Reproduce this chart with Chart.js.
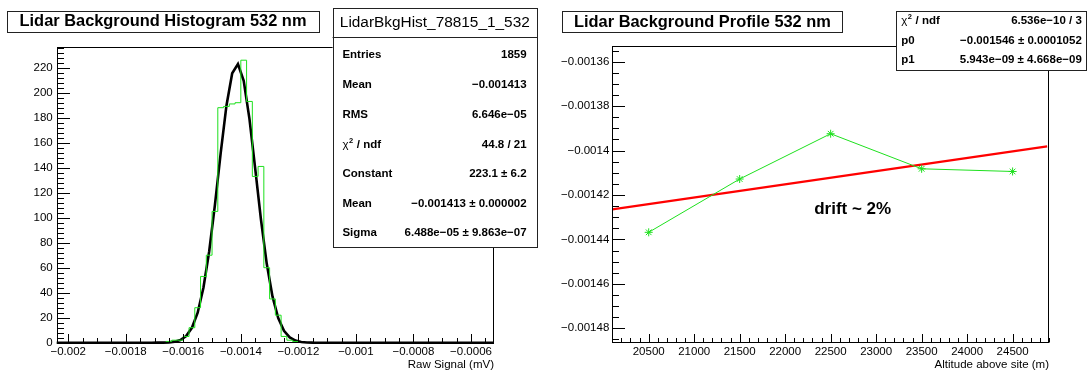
<!DOCTYPE html>
<html>
<head>
<meta charset="utf-8">
<script src="https://cdn.jsdelivr.net/npm/chart.js@4.4.0/dist/chart.umd.min.js"></script>
<style>
    body { margin: 0; background: #fff; width: 1087px; height: 370px; overflow: hidden; position: relative; }
    canvas { position: absolute; top: 0; }
    #histo { left: 0; }
    #prof { left: 545px; }
</style>
</head>
<body>
<canvas id="histo" width="545" height="370"></canvas>
<canvas id="prof" width="542" height="370"></canvas>
<script>
// ==========================================
// A. DATA
// ==========================================
// left: histogram, bins of 0.00002 from -0.00204 to -0.00052
const histMin = -0.00204;
const histMax = -0.00052;
const binWidth = 0.00002;
const firstBin = -0.00168;   // lower edge of the first listed bin
const histCounts = [0, 1, 2, 2, 5, 12, 28, 53, 70, 105, 188, 189, 191, 192, 226, 193, 133, 141, 60, 35, 22, 5, 2, 1];

// gaus fit curve
const fitX = [-0.00204, -0.00171, -0.00169, -0.00167, -0.00165, -0.00163, -0.00161, -0.00159, -0.00157, -0.00155,
              -0.00153, -0.00151, -0.00149, -0.00147, -0.00145, -0.00143, -0.00141, -0.00139, -0.00137, -0.00135,
              -0.00133, -0.00131, -0.00129, -0.00127, -0.00125, -0.00123, -0.00121, -0.00119, -0.00117, -0.00115, -0.00052];
const fitY = [0, 0.01, 0.03, 0.09, 0.28, 0.83, 2.2, 5.4, 11.9, 24.0,
              43.9, 73.0, 110.3, 151.7, 189.6, 215.6, 222.9, 209.5, 179.1, 139.3,
              98.4, 63.3, 37.0, 19.7, 9.5, 4.2, 1.7, 0.6, 0.2, 0.06, 0];

const histXTicks = [-0.002, -0.0018, -0.0016, -0.0014, -0.0012, -0.001, -0.0008, -0.0006];
const histXLabels = ['\u22120.002', '\u22120.0018', '\u22120.0016', '\u22120.0014', '\u22120.0012', '\u22120.001', '\u22120.0008', '\u22120.0006'];
const histYTicks = [0, 20, 40, 60, 80, 100, 120, 140, 160, 180, 200, 220];

const histStats = [
    ['Entries', '1859'],
    ['Mean', '\u22120.001413'],
    ['RMS', '6.646e\u221205'],
    ['\u03c72 / ndf', '44.8 / 21'],
    ['Constant', '223.1 \u00b1 6.2'],
    ['Mean', '\u22120.001413 \u00b1 0.000002'],
    ['Sigma', '6.488e\u221205 \u00b1 9.863e\u221207']
];

// right: profile vs altitude
const altitudes = [20500, 21500, 22500, 23500, 24500];
const bkgValues = [-0.0014368, -0.0014128, -0.0013924, -0.0014082, -0.0014094];
const lineX = [20100, 24880];
const lineY = [-0.0014265, -0.0013981];

const profXTicks = [20500, 21000, 21500, 22000, 22500, 23000, 23500, 24000, 24500];
const profYTicks = [-0.00136, -0.00138, -0.0014, -0.00142, -0.00144, -0.00146, -0.00148];
const profYLabels = ['\u22120.00136', '\u22120.00138', '\u22120.0014', '\u22120.00142', '\u22120.00144', '\u22120.00146', '\u22120.00148'];

const profStats = [
    ['\u03c72 / ndf', '6.536e\u221210 / 3'],
    ['p0', '\u22120.001546 \u00b1 0.0001052'],
    ['p1', '5.943e\u221209 \u00b1 4.668e\u221209']
];

// ==========================================
// B. ROOT-LIKE DECORATION
// ==========================================
const FONT = "'Liberation Sans', Arial, Helvetica, sans-serif";

function labelText(ctx, text, x, y) {
    // chi2 gets a superscript 2
    if (text.startsWith('\u03c72')) {
        ctx.font = '11.5px ' + FONT;
        ctx.fillText('\u03c7', x, y);
        let w = ctx.measureText('\u03c7').width;
        ctx.font = 'bold 7.5px ' + FONT;
        ctx.fillText('2', x + w + 0.5, y - 4);
        w += ctx.measureText('2').width + 1;
        ctx.font = 'bold 11.5px ' + FONT;
        ctx.fillText(text.slice(2), x + w, y);
    } else {
        ctx.fillText(text, x, y);
    }
}

function boxRect(ctx, x0, y0, x1, y1) {
    ctx.fillStyle = '#fff';
    ctx.fillRect(x0, y0, x1 - x0, y1 - y0);
    ctx.strokeStyle = '#222';
    ctx.strokeRect(Math.round(x0) + 0.5, Math.round(y0) + 0.5, Math.round(x1 - x0), Math.round(y1 - y0));
}

const rootStyle = {
    id: 'rootStyle',
    afterDraw(chart, args, o) {
        const { ctx, chartArea: a } = chart;
        const xs = chart.scales.x, ys = chart.scales.y;
        ctx.save();
        ctx.lineWidth = 1;
        ctx.strokeStyle = '#000';

        const L = Math.round(a.left) + 0.5, R = Math.round(a.right) - 0.5;
        const T = Math.round(a.top) + 0.5, B = Math.round(a.bottom) - 0.5;

        // tick marks, inside the frame
        ctx.beginPath();
        for (let k = Math.ceil(xs.min / o.xMinor - 1e-6); k <= Math.floor(xs.max / o.xMinor + 1e-6); k++) {
            const p = Math.round(xs.getPixelForValue(k * o.xMinor)) + 0.5;
            ctx.moveTo(p, B); ctx.lineTo(p, B - 4.5);
        }
        xs.ticks.forEach(t => {
            const p = Math.round(xs.getPixelForValue(t.value)) + 0.5;
            ctx.moveTo(p, B); ctx.lineTo(p, B - 8.5);
        });
        for (let k = Math.ceil(ys.min / o.yMinor - 1e-6); k <= Math.floor(ys.max / o.yMinor + 1e-6); k++) {
            const p = Math.round(ys.getPixelForValue(k * o.yMinor)) + 0.5;
            ctx.moveTo(L, p); ctx.lineTo(L + 6.5, p);
        }
        ys.ticks.forEach(t => {
            const p = Math.round(ys.getPixelForValue(t.value)) + 0.5;
            ctx.moveTo(L, p); ctx.lineTo(L + 12.5, p);
        });
        ctx.stroke();
        ctx.strokeRect(L, T, R - L, B - T);

        // axis title
        ctx.fillStyle = '#000';
        ctx.font = '11.5px ' + FONT;
        ctx.textAlign = 'right';
        ctx.textBaseline = 'middle';
        ctx.fillText(o.axisTitle, a.right, 365);

        // extra text
        if (o.note) {
            ctx.font = 'bold 17px ' + FONT;
            ctx.textAlign = 'left';
            ctx.fillText(o.note.text, o.note.x, o.note.y);
        }

        // title box
        const tb = o.titleBox;
        boxRect(ctx, tb.x0, tb.y0, tb.x1, tb.y1);
        ctx.fillStyle = '#000';
        ctx.font = 'bold 16.4px ' + FONT;
        ctx.textAlign = 'center';
        ctx.fillText(o.title, (tb.x0 + tb.x1) / 2, (tb.y0 + tb.y1) / 2 + 0.5);

        // stats box
        const sb = o.statsBox;
        boxRect(ctx, sb.x0, sb.y0, sb.x1, sb.y1);
        if (sb.header) {
            ctx.beginPath();
            ctx.moveTo(sb.x0, Math.round(sb.headerY) + 0.5);
            ctx.lineTo(sb.x1, Math.round(sb.headerY) + 0.5);
            ctx.stroke();
            ctx.fillStyle = '#000';
            ctx.font = '15.4px ' + FONT;
            ctx.textAlign = 'center';
            ctx.fillText(sb.header, (sb.x0 + sb.x1) / 2, (sb.y0 + sb.headerY) / 2 + 0.5);
        }
        ctx.fillStyle = '#000';
        sb.rows.forEach((r, i) => {
            const y = sb.rowY[i];
            ctx.font = 'bold 11.5px ' + FONT;
            ctx.textAlign = 'left';
            labelText(ctx, r[0], sb.labelX, y);
            ctx.font = 'bold 11.5px ' + FONT;
            ctx.textAlign = 'right';
            ctx.fillText(r[1], sb.valueX, y);
        });
        ctx.restore();
    }
};

function axisOpts(min, max, ticks, labels, pad, fit) {
    return {
        type: 'linear',
        min: min,
        max: max,
        grid: { display: false, drawTicks: false },
        border: { display: false },
        afterBuildTicks: s => { s.ticks = ticks.map(v => ({ value: v })); },
        afterFit: fit,
        ticks: {
            autoSkip: false,
            maxRotation: 0,
            padding: pad,
            color: '#000',
            font: { family: FONT, size: 11.5 },
            callback: (v, i) => labels[i]
        }
    };
}

// ==========================================
// C. LEFT CHART - HISTOGRAM
// ==========================================
// points at bin lower edges; 'before' keeps each count flat up to the next edge
const histPts = [{ x: histMin, y: 0 }];
histCounts.forEach((c, i) => histPts.push({ x: firstBin + i * binWidth, y: c }));
histPts.push({ x: firstBin + histCounts.length * binWidth, y: 0 });
histPts.push({ x: histMax, y: 0 });

new Chart(document.getElementById('histo').getContext('2d'), {
    type: 'line',
    data: {
        datasets: [{
            data: histPts,
            stepped: 'before',
            borderColor: '#1ee01e',
            borderWidth: 1,
            pointRadius: 0,
            fill: false
        }, {
            data: fitX.map((x, i) => ({ x: x, y: fitY[i] })),
            borderColor: '#000',
            borderWidth: 2.6,
            pointRadius: 0,
            tension: 0,
            clip: 3,
            fill: false
        }]
    },
    options: {
        responsive: false,
        animation: false,
        events: [],
        devicePixelRatio: 1,
        layout: { padding: { left: 0, right: 51, top: 46.7, bottom: 7.3 } },
        scales: {
            x: axisOpts(histMin, histMax, histXTicks, histXLabels, 2, s => { s.height = 20; }),
            y: axisOpts(0, 236.8, histYTicks, histYTicks.map(String), 4, s => { s.width = 56.7; })
        },
        plugins: {
            legend: { display: false },
            tooltip: { enabled: false },
            rootStyle: {
                xMinor: 0.00005,
                yMinor: 4,
                axisTitle: 'Raw Signal (mV)',
                title: 'Lidar Background Histogram 532 nm',
                titleBox: { x0: 7, y0: 11, x1: 319, y1: 31.7 },
                statsBox: {
                    x0: 332.6, y0: 8.3, x1: 537, y1: 247.7,
                    header: 'LidarBkgHist_78815_1_532', headerY: 36.7,
                    rows: histStats,
                    rowY: [55, 85, 115, 145, 174, 204, 233.3],
                    labelX: 342.4, valueX: 526.6
                }
            }
        }
    },
    plugins: [rootStyle]
});

// ==========================================
// D. RIGHT CHART - PROFILE
// ==========================================
new Chart(document.getElementById('prof').getContext('2d'), {
    type: 'line',
    data: {
        datasets: [{
            data: altitudes.map((x, i) => ({ x: x, y: bkgValues[i] })),
            borderColor: '#1ee01e',
            borderWidth: 1,
            pointStyle: 'star',
            pointRadius: 4,
            pointBorderColor: '#1ee01e',
            pointBorderWidth: 1,
            tension: 0,
            fill: false
        }, {
            data: lineX.map((x, i) => ({ x: x, y: lineY[i] })),
            borderColor: '#ff0000',
            borderWidth: 2.2,
            pointRadius: 0,
            fill: false
        }]
    },
    options: {
        responsive: false,
        animation: false,
        events: [],
        devicePixelRatio: 1,
        layout: { padding: { left: 0, right: 38, top: 46, bottom: 7.3 } },
        scales: {
            x: axisOpts(20100, 24900, profXTicks, profXTicks.map(String), 2, s => { s.height = 20; }),
            y: axisOpts(-0.0014865, -0.0013529, profYTicks, profYLabels, 3, s => { s.width = 67.3; })
        },
        plugins: {
            legend: { display: false },
            tooltip: { enabled: false },
            rootStyle: {
                xMinor: 100,
                yMinor: 0.000005,
                axisTitle: 'Altitude above site (m)',
                note: { text: 'drift ~ 2%', x: 269.2, y: 209 },
                title: 'Lidar Background Profile 532 nm',
                titleBox: { x0: 17.3, y0: 11, x1: 297.6, y1: 32 },
                statsBox: {
                    x0: 351, y0: 11, x1: 541, y1: 70,
                    rows: profStats,
                    rowY: [20.7, 41, 60],
                    labelX: 356.2, valueX: 536.8
                }
            }
        }
    },
    plugins: [rootStyle]
});
</script>
</body>
</html>
